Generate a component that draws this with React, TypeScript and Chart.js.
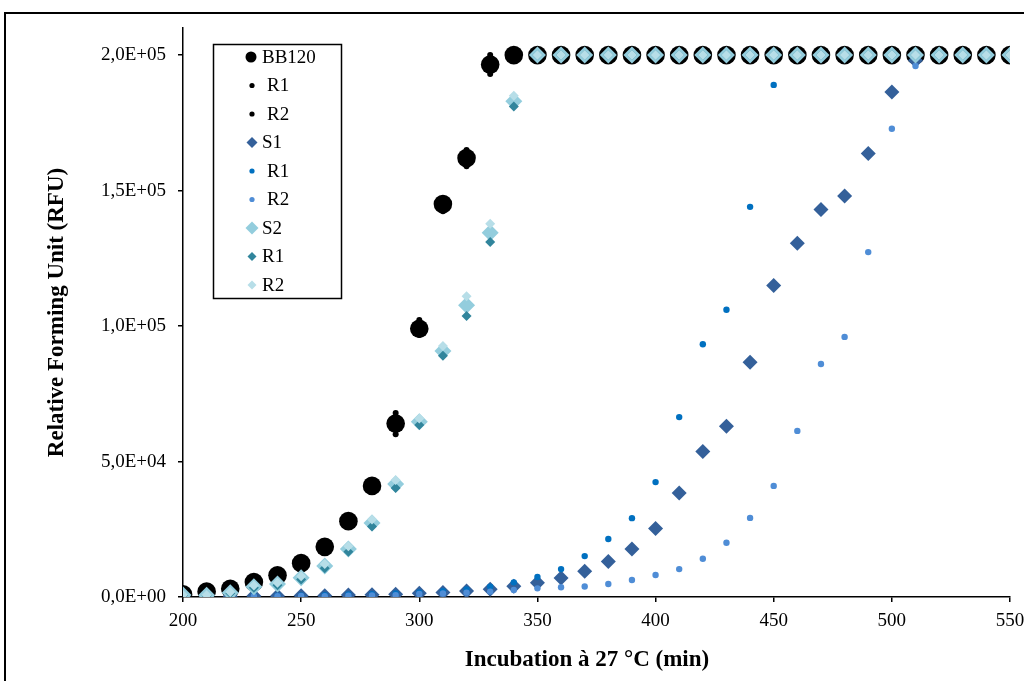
import React, { useEffect, useRef } from "react";
import { Chart, registerables } from "chart.js";

Chart.register(...registerables);

// ---- Data ----
const times = [200, 210, 220, 230, 240, 250, 260, 270, 280, 290, 300, 310, 320, 330, 340, 350, 360, 370, 380, 390, 400, 410, 420, 430, 440, 450, 460, 470, 480, 490, 500, 510, 520, 530, 540, 550];

const bb120Mean = [1000, 2000, 3000, 5500, 8000, 12500, 18500, 28000, 41000, 64000, 99000, 145000, 162000, 196500, 200000, 200000, 200000, 200000, 200000, 200000, 200000, 200000, 200000, 200000, 200000, 200000, 200000, 200000, 200000, 200000, 200000, 200000, 200000, 200000, 200000, 200000];
const bb120R1 = [1100, 2200, 3300, 5900, 8600, 13300, 19600, 29500, 43000, 67900, 102200, 147200, 165000, 200000, 200000, 200000, 200000, 200000, 200000, 200000, 200000, 200000, 200000, 200000, 200000, 200000, 200000, 200000, 200000, 200000, 200000, 200000, 200000, 200000, 200000, 200000];
const bb120R2 = [900, 1800, 2700, 5100, 7400, 11700, 17400, 26500, 39000, 60100, 96700, 142400, 159000, 193000, 200000, 200000, 200000, 200000, 200000, 200000, 200000, 200000, 200000, 200000, 200000, 200000, 200000, 200000, 200000, 200000, 200000, 200000, 200000, 200000, 200000, 200000];

const s1Mean = [300, 300, 300, 400, 400, 500, 500, 700, 800, 1000, 1400, 1700, 2200, 2900, 4000, 5300, 7000, 9500, 13100, 17700, 25300, 38400, 53700, 63000, 86600, 115000, 130600, 143000, 148000, 163700, 186400, 198000, 200000, 200000, 200000, 200000];
const s1R1 = [400, 400, 400, 500, 500, 600, 700, 900, 1000, 1300, 1700, 2100, 2800, 3800, 5400, 7400, 10300, 15100, 21400, 29100, 42400, 66400, 93300, 106000, 144000, 189000, 200000, 200000, 200000, 200000, 200000, 200000, 200000, 200000, 200000, 200000];
const s1R2 = [200, 200, 200, 300, 300, 400, 300, 500, 600, 700, 1100, 1300, 1600, 2000, 2600, 3200, 3600, 3900, 4800, 6300, 8100, 10300, 14100, 20000, 29200, 41000, 61300, 86000, 96000, 127300, 172800, 196000, 200000, 200000, 200000, 200000];

const s2Mean = [700, 600, 1600, 3800, 4800, 7100, 11400, 17700, 27300, 41700, 64700, 90800, 107700, 134400, 183000, 200000, 200000, 200000, 200000, 200000, 200000, 200000, 200000, 200000, 200000, 200000, 200000, 200000, 200000, 200000, 200000, 200000, 200000, 200000, 200000, 200000];
const s2R1 = [600, 500, 1400, 3400, 4300, 6500, 10600, 16700, 26000, 40200, 63500, 89000, 103700, 131000, 181000, 200000, 200000, 200000, 200000, 200000, 200000, 200000, 200000, 200000, 200000, 200000, 200000, 200000, 200000, 200000, 200000, 200000, 200000, 200000, 200000, 200000];
const s2R2 = [800, 700, 1800, 4200, 5300, 7700, 12200, 18700, 28600, 43200, 65900, 92600, 111000, 137800, 185000, 200000, 200000, 200000, 200000, 200000, 200000, 200000, 200000, 200000, 200000, 200000, 200000, 200000, 200000, 200000, 200000, 200000, 200000, 200000, 200000, 200000];

const seriesLabels = ["BB120", "R1", "R2", "S1", "R1", "R2", "S2", "R1", "R2"];
const yTicks = [0, 50000, 100000, 150000, 200000];
const xTitle = "Incubation à 27 °C (min)";
const yTitle = "Relative Forming Unit (RFU)";

// ---- Styles ----
const seriesStyles = [
  { color: "#000000", shape: "circle", r: 9.3, lr: 5.5, lx: 251, tx: 262 },
  { color: "#000000", shape: "circle", r: 3, lr: 2.6, lx: 252, tx: 267 },
  { color: "#000000", shape: "circle", r: 3, lr: 2.6, lx: 252, tx: 267 },
  { color: "#34609A", shape: "rectRot", r: 7.5, lr: 5.5, lx: 252, tx: 262 },
  { color: "#0070C0", shape: "circle", r: 3.2, lr: 2.6, lx: 252, tx: 267 },
  { color: "#4F8DD6", shape: "circle", r: 3.2, lr: 2.6, lx: 252, tx: 267 },
  { color: "#93CDDD", shape: "rectRot", r: 8.5, lr: 6.5, lx: 252, tx: 262 },
  { color: "#31859C", shape: "rectRot", r: 5, lr: 4.5, lx: 252, tx: 262 },
  { color: "#B7DEE8", shape: "rectRot", r: 5, lr: 4.5, lx: 252, tx: 262 },
];

const seriesValues = [bb120Mean, bb120R1, bb120R2, s1Mean, s1R1, s1R2, s2Mean, s2R1, s2R2];

const serif = "'Liberation Serif', 'Times New Roman', serif";

function fmtSci(v: number): string {
  if (v === 0) return "0,0E+00";
  const e = Math.floor(Math.log10(Math.abs(v)));
  const m = v / Math.pow(10, e);
  return m.toFixed(1).replace(".", ",") + "E+" + String(e).padStart(2, "0");
}

const legendPlugin = {
  id: "customLegend",
  afterDraw(chart: any) {
    const ctx = chart.ctx as CanvasRenderingContext2D;
    ctx.save();
    // outer frame
    ctx.strokeStyle = "#000";
    ctx.lineWidth = 2;
    ctx.strokeRect(5, 13, 1100, 700);
    // x axis title
    ctx.fillStyle = "#000";
    ctx.font = "bold 23px " + serif;
    ctx.textAlign = "center";
    ctx.textBaseline = "middle";
    ctx.fillText(xTitle, 587, 660);
    // legend box
    ctx.lineWidth = 1.5;
    ctx.strokeRect(213.5, 44.5, 128, 254);
    const y0 = 57;
    const dy = 28.5;
    ctx.font = "19px " + serif;
    ctx.textBaseline = "middle";
    ctx.textAlign = "left";
    seriesLabels.forEach((lab, i) => {
      const st = seriesStyles[i];
      const y = y0 + i * dy;
      ctx.fillStyle = st.color;
      ctx.beginPath();
      if (st.shape === "circle") {
        ctx.arc(st.lx, y, st.lr, 0, Math.PI * 2);
      } else {
        ctx.moveTo(st.lx - st.lr, y);
        ctx.lineTo(st.lx, y - st.lr);
        ctx.lineTo(st.lx + st.lr, y);
        ctx.lineTo(st.lx, y + st.lr);
        ctx.closePath();
      }
      ctx.fill();
      ctx.fillStyle = "#000";
      ctx.fillText(lab, st.tx, y + 1);
    });
    ctx.restore();
  },
};

export default function App() {
  const canvasRef = useRef<HTMLCanvasElement | null>(null);

  useEffect(() => {
    if (!canvasRef.current) return;
    const datasets = seriesLabels.map((lab, i) => ({
      label: lab,
      data: times.map((t, k) => ({ x: t, y: seriesValues[i][k] })),
      pointStyle: seriesStyles[i].shape,
      pointRadius: seriesStyles[i].r,
      pointBackgroundColor: seriesStyles[i].color,
      pointBorderColor: seriesStyles[i].color,
      pointBorderWidth: 0,
      showLine: false,
      order: 8 - i,
    }));

    const tickFont = { family: serif, size: 19 };
    const titleFont = { family: serif, size: 23, weight: "bold" as const };

    const chart = new Chart(canvasRef.current, {
      type: "scatter",
      data: { datasets },
      plugins: [legendPlugin],
      options: {
        animation: false,
        responsive: false,
        devicePixelRatio: 1,
        layout: { padding: { left: 0, top: 28, right: 0, bottom: 0 } },
        plugins: { legend: { display: false }, tooltip: { enabled: false } },
        scales: {
          x: {
            type: "linear",
            min: 200,
            max: 550,
            ticks: { stepSize: 50, font: tickFont, color: "#000", padding: 8 },
            grid: { drawOnChartArea: false, drawTicks: true, tickLength: 5, color: "#000", lineWidth: 1.5 },
            border: { color: "#000", width: 1.5 },
            title: { display: false },
            afterFit: (s: any) => { s.height = 84; s.paddingRight = 14; s.paddingLeft = 0; },
          },
          y: {
            type: "linear",
            min: 0,
            max: 210000,
            afterBuildTicks: (s: any) => { s.ticks = yTicks.map((v) => ({ value: v })); },
            ticks: { font: tickFont, color: "#000", padding: 12, callback: (v: any) => fmtSci(Number(v)) },
            grid: { drawOnChartArea: false, drawTicks: true, tickLength: 5, color: "#000", lineWidth: 1.5 },
            border: { color: "#000", width: 1.5 },
            title: { display: true, text: yTitle, font: titleFont, color: "#000", padding: { top: 43, bottom: 0 } },
            afterFit: (s: any) => { s.width = 183; },
          },
        },
      },
    } as any);
    return () => chart.destroy();
  }, []);

  return (
    <div style={{ position: "fixed", left: 0, top: 0, width: 1024, height: 681, background: "#fff" }}>
      <canvas ref={canvasRef} width={1024} height={681} />
    </div>
  );
}
